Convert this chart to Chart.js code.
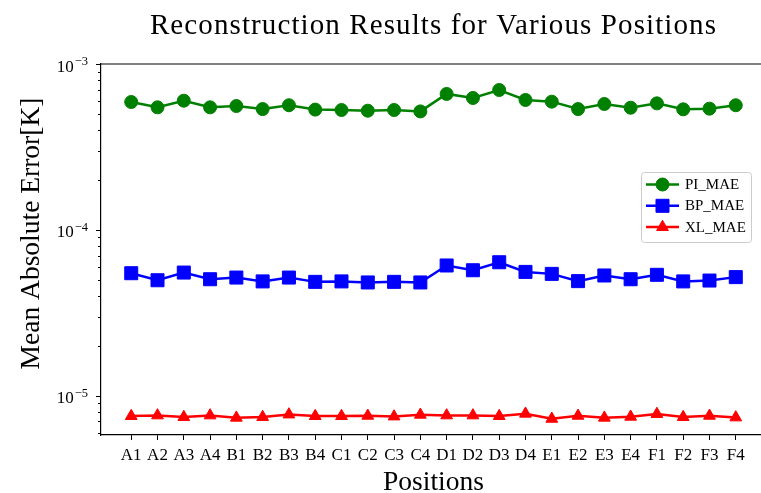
<!DOCTYPE html>
<html>
<head>
<meta charset="utf-8">
<script src="https://cdn.jsdelivr.net/npm/chart.js@4/dist/chart.umd.min.js"></script>
<style>
  html, body { margin: 0; padding: 0; background: #fff; }
  #wrap { width: 761px; height: 493px; position: relative; }
</style>
</head>
<body>
<div id="wrap"><canvas id="chart"></canvas></div>
<script>
const positions = ['A1', 'A2', 'A3', 'A4', 'B1', 'B2', 'B3', 'B4', 'C1', 'C2', 'C3', 'C4',
                   'D1', 'D2', 'D3', 'D4', 'E1', 'E2', 'E3', 'E4', 'F1', 'F2', 'F3', 'F4'];

const piMae = [5.90e-4, 5.48e-4, 6.01e-4, 5.48e-4, 5.58e-4, 5.35e-4, 5.64e-4, 5.31e-4,
               5.28e-4, 5.23e-4, 5.28e-4, 5.18e-4, 6.60e-4, 6.24e-4, 6.97e-4, 6.07e-4,
               5.93e-4, 5.35e-4, 5.74e-4, 5.45e-4, 5.79e-4, 5.33e-4, 5.38e-4, 5.64e-4];
const bpMae = [5.48e-5, 4.97e-5, 5.53e-5, 5.04e-5, 5.16e-5, 4.89e-5, 5.16e-5, 4.86e-5,
               4.89e-5, 4.82e-5, 4.86e-5, 4.82e-5, 6.10e-5, 5.71e-5, 6.38e-5, 5.58e-5,
               5.43e-5, 4.91e-5, 5.31e-5, 5.04e-5, 5.36e-5, 4.89e-5, 4.95e-5, 5.19e-5];
const xlMae = [7.54e-6, 7.61e-6, 7.44e-6, 7.61e-6, 7.37e-6, 7.44e-6, 7.71e-6, 7.54e-6,
               7.54e-6, 7.57e-6, 7.50e-6, 7.68e-6, 7.61e-6, 7.61e-6, 7.54e-6, 7.79e-6,
               7.26e-6, 7.57e-6, 7.37e-6, 7.47e-6, 7.76e-6, 7.44e-6, 7.57e-6, 7.40e-6];

// log axis ticks
const yMajorTicks = [1e-5, 1e-4, 1e-3];
const yMajorExps = ['\u22125', '\u22124', '\u22123'];
const yMinorTicks = [6e-6, 7e-6, 8e-6, 9e-6,
                     2e-5, 3e-5, 4e-5, 5e-5, 6e-5, 7e-5, 8e-5, 9e-5,
                     2e-4, 3e-4, 4e-4, 5e-4, 6e-4, 7e-4, 8e-4, 9e-4];

const SERIF = '"Liberation Serif", "DejaVu Serif", serif';

const series = [
    { label: 'PI_MAE', data: piMae, color: '#008000', style: 'circle', radius: 6.5 },
    { label: 'BP_MAE', data: bpMae, color: '#0000ff', style: 'rect', radius: 9.2 },
    { label: 'XL_MAE', data: xlMae, color: '#ff0000', style: 'triangle', radius: 6.8 },
];

// spines, log ticks, text and the legend box
const decorations = {
    id: 'decorations',
    afterDraw(chart) {
        const { ctx, chartArea: a, scales: { x, y } } = chart;
        ctx.save();

        // top spine (right spine falls outside the picture)
        ctx.strokeStyle = '#000';
        ctx.lineWidth = 1.2;
        ctx.beginPath();
        ctx.moveTo(a.left, a.top);
        ctx.lineTo(a.right, a.top);
        ctx.stroke();

        // y ticks, major and minor
        ctx.lineWidth = 1;
        const tick = (v, len) => {
            const py = Math.round(y.getPixelForValue(v)) + 0.5;
            ctx.beginPath();
            ctx.moveTo(a.left - len, py);
            ctx.lineTo(a.left, py);
            ctx.stroke();
        };
        yMinorTicks.forEach(v => tick(v, 3));
        yMajorTicks.forEach(v => tick(v, 5));

        // y tick labels 10^n
        ctx.fillStyle = '#000';
        ctx.textBaseline = 'alphabetic';
        yMajorTicks.forEach((v, i) => {
            const py = y.getPixelForValue(v);
            ctx.font = `12.5px ${SERIF}`;
            ctx.textAlign = 'right';
            const expW = ctx.measureText(yMajorExps[i]).width;
            ctx.fillText(yMajorExps[i], 88, py + 0.8);
            ctx.font = `17px ${SERIF}`;
            ctx.fillText('10', 88 - expW - 1, py + 7.6);
        });

        const midX = x.getPixelForValue(11.5);

        // title
        ctx.textAlign = 'center';
        ctx.font = `29px ${SERIF}`;
        ctx.letterSpacing = '1.1px';
        ctx.fillText('Reconstruction Results for Various Positions', midX, 34.3);
        ctx.letterSpacing = '0px';

        // x label
        ctx.font = `27.5px ${SERIF}`;
        ctx.fillText('Positions', midX, 490);

        // y label
        ctx.save();
        ctx.translate(32, 233.5);
        ctx.rotate(-Math.PI / 2);
        ctx.textBaseline = 'middle';
        ctx.fillText('Mean Absolute Error[K]', 0, 0);
        ctx.restore();

        // legend
        const lx = 641, ly = 172, lw = 110, lh = 70;
        ctx.fillStyle = 'rgba(255,255,255,0.8)';
        ctx.strokeStyle = '#cccccc';
        ctx.lineWidth = 1;
        ctx.beginPath();
        ctx.roundRect(lx + 0.5, ly + 0.5, lw, lh, 3);
        ctx.fill();
        ctx.stroke();

        series.forEach((s, i) => {
            const ry = 184.5 + i * 21.3;
            ctx.strokeStyle = s.color;
            ctx.lineWidth = 2.5;
            ctx.beginPath();
            ctx.moveTo(646, ry);
            ctx.lineTo(679, ry);
            ctx.stroke();
            ctx.fillStyle = s.color;
            ctx.lineWidth = 1;
            Chart.helpers.drawPoint(ctx, {
                pointStyle: s.style, radius: s.radius, rotation: 0, borderWidth: 1
            }, 662.5, ry);
            ctx.fillStyle = '#000';
            ctx.font = `15px ${SERIF}`;
            ctx.textAlign = 'left';
            ctx.textBaseline = 'middle';
            ctx.fillText(s.label, 685, ry + 0.5);
        });

        ctx.restore();
    }
};

new Chart(document.getElementById('chart'), {
    type: 'line',
    data: {
        datasets: series.map(s => ({
            label: s.label,
            data: s.data.map((v, i) => ({ x: i, y: v })),
            borderColor: s.color,
            backgroundColor: s.color,
            borderWidth: 2.5,
            pointStyle: s.style,
            pointRadius: s.radius,
            pointBorderWidth: 1,
            pointBorderColor: s.color,
            pointBackgroundColor: s.color,
            tension: 0,
            clip: false
        }))
    },
    options: {
        responsive: true,
        maintainAspectRatio: false,
        animation: false,
        events: [],
        layout: { autoPadding: false, padding: { top: 64, left: 0, right: 0, bottom: 0 } },
        plugins: {
            legend: { display: false },
            title: { display: false },
            tooltip: { enabled: false }
        },
        scales: {
            x: {
                type: 'linear',
                min: -1.15,
                max: 23.96,
                afterBuildTicks: (scale) => {
                    scale.ticks = positions.map((_, i) => ({ value: i }));
                },
                afterFit: (scale) => {
                    scale.height = 58;
                    scale.paddingLeft = 0;
                    scale.paddingRight = 0;
                },
                border: { display: true, color: '#000', width: 1.2 },
                grid: {
                    display: true,
                    drawOnChartArea: false,
                    drawTicks: true,
                    tickLength: 5,
                    tickColor: '#000',
                    tickWidth: 1
                },
                ticks: {
                    autoSkip: false,
                    maxRotation: 0,
                    padding: 5,
                    color: '#000',
                    font: { family: SERIF, size: 17 },
                    callback: (v) => positions[v] ?? ''
                }
            },
            y: {
                type: 'logarithmic',
                min: 5.8e-6,
                max: 1e-3,
                afterFit: (scale) => {
                    scale.width = 101;
                    scale.paddingTop = 0;
                    scale.paddingBottom = 0;
                },
                border: { display: true, color: '#000', width: 1.2 },
                grid: { display: false },
                ticks: { display: false }
            }
        }
    },
    plugins: [decorations]
});
</script>
</body>
</html>
